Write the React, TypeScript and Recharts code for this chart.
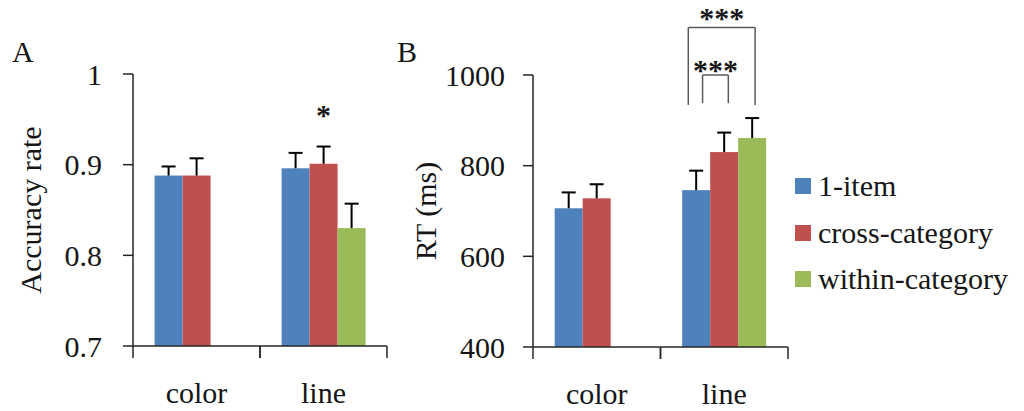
import React from 'react';
import { BarChart, Bar, XAxis, YAxis, ReferenceLine, LabelList } from 'recharts';

const categories = ['color', 'line'];
const seriesNames = ['1-item', 'cross-category', 'within-category'];
const seriesColors = ['#4F81BD', '#C0504D', '#9BBB59'];

// panel A – accuracy rate
const accOneItem = [0.888, 0.896];
const accCross = [0.888, 0.901];
const accWithin = [null, 0.83];
const accOneItemErr = [0.01, 0.017];
const accCrossErr = [0.019, 0.019];
const accWithinErr = [null, 0.027];
const accSig = ['', '*'];
const accTicks = [0.7, 0.8, 0.9, 1];

// panel B – reaction time
const rtOneItem = [706, 746];
const rtCross = [728, 830];
const rtWithin = [null, 861];
const rtOneItemErr = [35, 43];
const rtCrossErr = [31, 43];
const rtWithinErr = [null, 44];
const rtTicks = [400, 600, 800, 1000];

// significance brackets in panel B (x as fraction of the category axis, y in ms)
const rtBrackets = [
  { from: 0.609, to: 0.871, top: 1105, foot: 934, mark: '***' },
  { from: 0.665, to: 0.766, top: 1000, foot: 938, mark: '***' },
];

const FONT = '"Liberation Serif", "Times New Roman", serif';
const INK = '#161616';
const AXIS = '#262626';
const BRACKET = '#5a5a5a';

const buildRows = (s0: any[], s1: any[], s2: any[], e0: any[], e1: any[], e2: any[], sig?: string[]) =>
  categories.map((c, i) => ({ cat: c, s0: s0[i], s1: s1[i], s2: s2[i], e0: e0[i], e1: e1[i], e2: e2[i], sig: sig ? sig[i] : '' }));

const accRows = buildRows(accOneItem, accCross, accWithin, accOneItemErr, accCrossErr, accWithinErr, accSig);
const rtRows = buildRows(rtOneItem, rtCross, rtWithin, rtOneItemErr, rtCrossErr, rtWithinErr);

// bar rectangle plus a one-sided (upward) error bar with cap
const barWithError = (key: number, base: number) => (p: any) => {
  const { x, y, width, height, fill, payload } = p;
  const v = payload[`s${key}`];
  const err = payload[`e${key}`];
  if (v == null || !height) return null;
  const perUnit = height / (v - base);
  const top = y - err * perUnit;
  const cx = x + width / 2;
  return (
    <g>
      <rect x={x} y={y} width={width} height={height} fill={fill} />
      <line x1={cx} x2={cx} y1={y} y2={top} stroke="#000" strokeWidth={2} />
      <line x1={cx - 7} x2={cx + 7} y1={top} y2={top} stroke="#000" strokeWidth={2} />
    </g>
  );
};

// category label with Excel-style tick marks on the band edges
const CatTick = (p: any) => {
  const { x, y, payload } = p;
  const half = payload && payload.offset ? payload.offset : 63.5;
  return (
    <g>
      <line x1={x - half} x2={x - half} y1={y} y2={y + 12} stroke={AXIS} strokeWidth={1.5} />
      <line x1={x + half} x2={x + half} y1={y} y2={y + 12} stroke={AXIS} strokeWidth={1.5} />
      <text x={x} y={y + 36} dy="0.71em" textAnchor="middle" fontFamily={FONT} fontSize={30} fill={INK}>
        {payload.value}
      </text>
    </g>
  );
};

const axisTitle = (text: string, inset: number) => (p: any) => {
  const vb = p.viewBox;
  const cx = vb.x + inset;
  const cy = vb.y + vb.height / 2;
  return (
    <text x={cx} y={cy} transform={`rotate(-90 ${cx} ${cy})`} textAnchor="middle" dominantBaseline="central"
      fontFamily={FONT} fontSize={30} fill={INK}>
      {text}
    </text>
  );
};

const yTick = { fontFamily: FONT, fontSize: 30, fill: INK };

export default function App() {
  return (
    <div style={{ position: 'absolute', left: 0, top: 0, width: 1024, height: 411, background: '#fff' }}>
      <div style={{ position: 'absolute', left: 0, top: 0 }}>
        <BarChart width={400} height={411} data={accRows} margin={{ top: 74, right: 13, bottom: 5, left: 18 }}
          barGap={0} barCategoryGap="17%">
          <XAxis dataKey="cat" height={60} tickSize={0} tickMargin={0} tickLine={false}
            axisLine={{ stroke: AXIS, strokeWidth: 1.5 }} tick={<CatTick />} interval={0} />
          <YAxis domain={[0.7, 1]} ticks={accTicks} width={115} tickSize={10} tickMargin={21}
            axisLine={{ stroke: AXIS, strokeWidth: 1.5 }} tickLine={{ stroke: AXIS, strokeWidth: 1.5 }}
            tick={yTick} label={axisTitle('Accuracy rate', 12)} />
          <Bar dataKey="s0" name={seriesNames[0]} fill={seriesColors[0]} isAnimationActive={false} shape={barWithError(0, 0.7)} />
          <Bar dataKey="s1" name={seriesNames[1]} fill={seriesColors[1]} isAnimationActive={false} shape={barWithError(1, 0.7)}>
            <LabelList dataKey="sig" position="top" offset={39} fontFamily={FONT} fontWeight="bold" fontSize={30} fill={INK} />
          </Bar>
          <Bar dataKey="s2" name={seriesNames[2]} fill={seriesColors[2]} isAnimationActive={false} shape={barWithError(2, 0.7)} />
        </BarChart>
      </div>

      <div style={{ position: 'absolute', left: 400, top: 0 }}>
        <BarChart width={624} height={411} data={rtRows} margin={{ top: 75, right: 236, bottom: 4, left: 23 }}
          barGap={0} barCategoryGap="17%">
          <XAxis dataKey="cat" height={60} tickSize={0} tickMargin={0} tickLine={false}
            axisLine={{ stroke: AXIS, strokeWidth: 1.5 }} tick={<CatTick />} interval={0} />
          <XAxis xAxisId="pos" type="number" domain={[0, 1]} allowDataOverflow hide />
          <YAxis domain={[400, 1000]} ticks={rtTicks} width={110} tickSize={10} tickMargin={18}
            axisLine={{ stroke: AXIS, strokeWidth: 1.5 }} tickLine={{ stroke: AXIS, strokeWidth: 1.5 }}
            tick={yTick} label={axisTitle('RT (ms)', 2)} />
          <Bar dataKey="s0" name={seriesNames[0]} fill={seriesColors[0]} isAnimationActive={false} shape={barWithError(0, 400)} />
          <Bar dataKey="s1" name={seriesNames[1]} fill={seriesColors[1]} isAnimationActive={false} shape={barWithError(1, 400)} />
          <Bar dataKey="s2" name={seriesNames[2]} fill={seriesColors[2]} isAnimationActive={false} shape={barWithError(2, 400)} />
          {rtBrackets.map((b, i) => (
            <ReferenceLine key={`h${i}`} xAxisId="pos" ifOverflow="visible" stroke={BRACKET} strokeWidth={1.5}
              segment={[{ x: b.from, y: b.top }, { x: b.to, y: b.top }]}
              label={{ value: b.mark, position: 'top', offset: i === 0 ? -1 : -5, fontFamily: FONT, fontWeight: 'bold', fontSize: 30, fill: INK }} />
          ))}
          {rtBrackets.map((b, i) => (
            <ReferenceLine key={`l${i}`} xAxisId="pos" ifOverflow="visible" stroke={BRACKET} strokeWidth={1.5}
              segment={[{ x: b.from, y: b.foot }, { x: b.from, y: b.top }]} />
          ))}
          {rtBrackets.map((b, i) => (
            <ReferenceLine key={`r${i}`} xAxisId="pos" ifOverflow="visible" stroke={BRACKET} strokeWidth={1.5}
              segment={[{ x: b.to, y: b.foot }, { x: b.to, y: b.top }]} />
          ))}
        </BarChart>
      </div>

      <div style={{ position: 'absolute', left: 795, top: 163, fontFamily: FONT, fontSize: 30, color: INK }}>
        {seriesNames.map((n, i) => (
          <div key={n} style={{ display: 'flex', alignItems: 'center', height: 46.5, whiteSpace: 'nowrap' }}>
            <span style={{ width: 16, height: 16, background: seriesColors[i], marginRight: 7, flex: 'none' }} />
            <span>{n}</span>
          </div>
        ))}
      </div>

      <svg width={1024} height={411} style={{ position: 'absolute', left: 0, top: 0, pointerEvents: 'none' }}>
        <text x={12} y={62} fontFamily={FONT} fontSize={30} fill={INK}>A</text>
        <text x={397} y={62} fontFamily={FONT} fontSize={30} fill={INK}>B</text>
      </svg>
    </div>
  );
}
